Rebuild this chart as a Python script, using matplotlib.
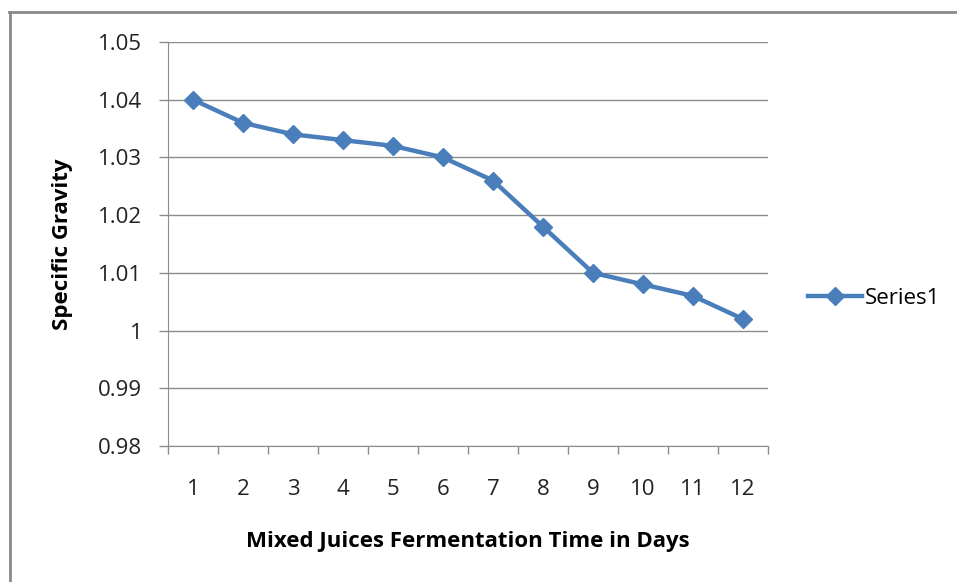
import matplotlib.pyplot as plt
from matplotlib.lines import Line2D

days = [1, 2, 3, 4, 5, 6, 7, 8, 9, 10, 11, 12]
gravity = [1.040, 1.036, 1.034, 1.033, 1.032, 1.030, 1.026, 1.018, 1.010, 1.008, 1.006, 1.002]
y_ticks = [0.98, 0.99, 1.00, 1.01, 1.02, 1.03, 1.04, 1.05]
y_labels = ['0.98', '0.99', '1', '1.01', '1.02', '1.03', '1.04', '1.05']

plt.rcParams['font.family'] = ['Open Sans', 'DejaVu Sans']
blue = '#4A7EBB'
grid = '#8c8c8c'

fig = plt.figure(figsize=(9.57, 5.82), dpi=100)
ax = fig.add_axes([168 / 957, 1 - 446 / 582, 600 / 957, 404 / 582])

# outer chart border (only top and left edges are visible in the crop)
fig.add_artist(Line2D([9 / 957, 1], [1 - 12 / 582, 1 - 12 / 582], transform=fig.transFigure,
                      color='#8a8a8a', linewidth=2))
fig.add_artist(Line2D([10 / 957, 10 / 957], [0, 1 - 12 / 582], transform=fig.transFigure,
                      color='#8a8a8a', linewidth=2))

ax.plot(days, gravity, color=blue, linewidth=3.2, marker='D', markersize=9, zorder=3)

ax.set_xlim(0.5, 12.5)
ax.set_ylim(0.98, 1.05)
ax.set_yticks(y_ticks)
ax.set_yticklabels(y_labels)
ax.set_xticks(days)
ax.set_xticklabels([str(d) for d in days])
ax.set_xticks([d + 0.5 for d in range(0, 13)], minor=True)
ax.tick_params(axis='x', which='major', length=0, pad=24, labelsize=16, colors='#222222')
ax.tick_params(axis='x', which='minor', length=6, width=1, color=grid, direction='out')
ax.tick_params(axis='y', length=6.5, width=1, color=grid, pad=12, labelsize=16, labelcolor='#222222')

ax.yaxis.grid(True, color=grid, linewidth=1)
ax.set_axisbelow(True)
for side in ['top', 'right']:
    ax.spines[side].set_visible(False)
ax.spines['left'].set_color(grid)
ax.spines['bottom'].set_color(grid)

ax.set_xlabel('Mixed Juices Fermentation Time in Days', fontsize=16, fontweight='bold', labelpad=22)
ax.set_ylabel('Specific Gravity', fontsize=16, fontweight='bold', labelpad=18)

handle = Line2D([], [], color=blue, linewidth=3.2, marker='D', markersize=9)
fig.legend([handle], ['Series1'], loc='center left', bbox_to_anchor=(808 / 957, 1 - 298 / 582),
           frameon=False, fontsize=16, handlelength=2.45, handletextpad=0.12, borderpad=0,
           borderaxespad=0)

fig.savefig('out.png', dpi=100)
